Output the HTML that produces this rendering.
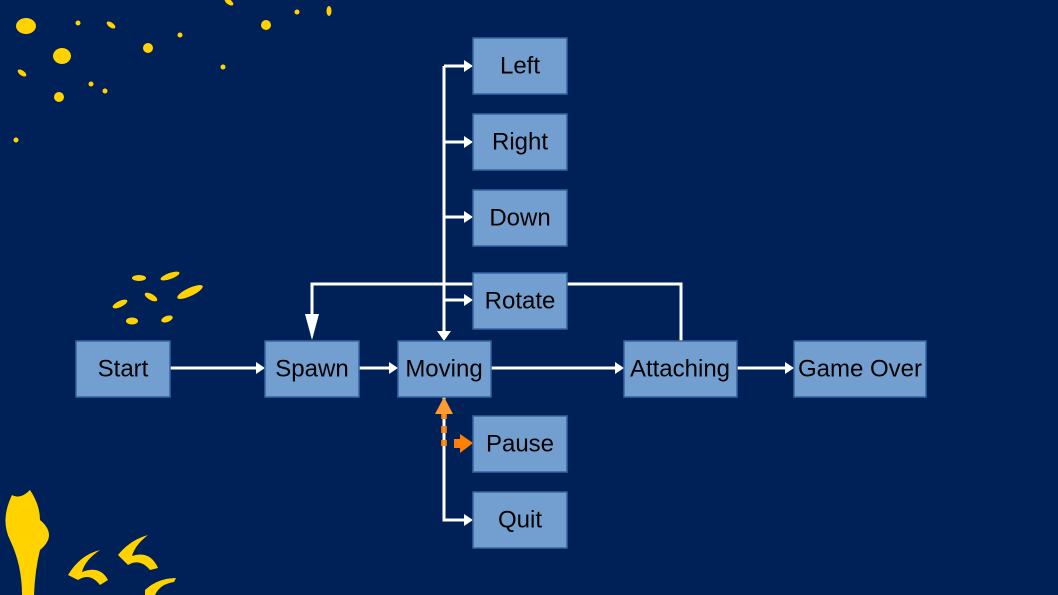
<!DOCTYPE html>
<html><head><meta charset="utf-8"><style>
html,body{margin:0;padding:0;background:#002157;}
svg{display:block}
text{font-family:"Liberation Sans",sans-serif;font-size:24px;fill:#000;text-anchor:middle;dominant-baseline:central}
</style></head><body>
<svg width="1058" height="595" viewBox="0 0 1058 595">
<rect width="1058" height="595" fill="#002157"/>
<g fill="#ffd200">
<ellipse cx="26" cy="26" rx="10" ry="8"/><ellipse cx="62" cy="56" rx="9" ry="8"/><ellipse cx="148" cy="48" rx="5" ry="5"/><ellipse cx="266" cy="25" rx="5" ry="5"/><ellipse cx="59" cy="97" rx="5" ry="5"/>
<circle cx="78" cy="23" r="2.5"/><circle cx="180" cy="35" r="2.5"/><circle cx="223" cy="67" r="2.5"/><circle cx="297" cy="12" r="2.5"/><circle cx="91" cy="84" r="2.5"/><circle cx="105" cy="91" r="2.5"/><circle cx="16" cy="140" r="2.5"/>
<ellipse cx="111" cy="25" rx="5" ry="2.5" transform="rotate(35 111 25)"/><ellipse cx="22" cy="73" rx="5" ry="2.5" transform="rotate(35 22 73)"/><ellipse cx="229" cy="2" rx="5" ry="2.5" transform="rotate(35 229 2)"/><ellipse cx="329" cy="11" rx="2.5" ry="5"/>
<ellipse cx="139" cy="278" rx="7" ry="3"/><ellipse cx="170" cy="276" rx="10" ry="3" transform="rotate(-20 170 276)"/><ellipse cx="120" cy="304" rx="8" ry="3" transform="rotate(-25 120 304)"/><ellipse cx="151" cy="297" rx="7" ry="3" transform="rotate(30 151 297)"/><ellipse cx="190" cy="292" rx="14" ry="4" transform="rotate(-25 190 292)"/><ellipse cx="132" cy="321" rx="6" ry="3.5"/><ellipse cx="167" cy="319" rx="6" ry="3" transform="rotate(-20 167 319)"/>
<path d="M12 495 Q20 500 30 490 Q40 505 40 520 Q58 535 40 550 Q35 570 34 595 L22 595 Q22 565 10 540 Q0 520 12 495Z"/>
<path d="M68 575 Q80 555 100 550 Q85 560 82 572 Q100 565 108 580 L100 585 Q90 572 78 580Z"/>
<path d="M118 555 Q130 540 148 535 Q135 545 132 556 Q150 550 158 568 L150 570 Q140 558 128 565Z"/>
<path d="M145 590 Q158 578 176 578 L174 582 Q160 584 155 595 L145 595Z"/>
</g>
<g stroke="#fff" stroke-width="3" fill="none">
<line x1="170" y1="368" x2="258" y2="368"/>
<line x1="359" y1="368" x2="391" y2="368"/>
<line x1="491" y1="368" x2="617" y2="368"/>
<line x1="737" y1="368" x2="787" y2="368"/>
<line x1="444" y1="66" x2="444" y2="333"/>
<line x1="444" y1="66" x2="466" y2="66"/>
<line x1="444" y1="142" x2="466" y2="142"/>
<line x1="444" y1="217" x2="466" y2="217"/>
<line x1="444" y1="300" x2="466" y2="300"/>
<polyline points="312,316 312,284 473,284"/>
<polyline points="567,284 681,284 681,341"/>
<polyline points="444,397 444,520 466,520"/>
</g>
<g fill="#fff">
<polygon points="256,362 265,368 256,374"/>
<polygon points="389,362 398,368 389,374"/>
<polygon points="615,362 624,368 615,374"/>
<polygon points="785,362 794,368 785,374"/>
<polygon points="464,60 473,66 464,72"/>
<polygon points="464,136 473,142 464,148"/>
<polygon points="464,211 473,217 464,223"/>
<polygon points="464,294 473,300 464,306"/>
<polygon points="464,514 473,520 464,526"/>
<polygon points="437,331 451,331 444,341"/>
<polygon points="305,314 319,314 312,340"/>
</g>
<g>
<line x1="444" y1="412" x2="444" y2="446" stroke="#ff8000" stroke-width="6" stroke-dasharray="7,7" opacity="0.85"/>
<polygon points="435,414 444,397 453,414" fill="#ff9a30"/>
<rect x="454" y="439" width="8" height="9" fill="#ff8000"/>
<polygon points="460,434 473,443 460,453" fill="#ff8000"/>
</g>
<g stroke="#3465a4" stroke-width="1.5" fill="#729fcf">
<rect x="76" y="341" width="94" height="56"/>
<rect x="265" y="341" width="94" height="56"/>
<rect x="398" y="341" width="93" height="56"/>
<rect x="624" y="341" width="113" height="56"/>
<rect x="794" y="341" width="132" height="56"/>
<rect x="473" y="38" width="94" height="56"/>
<rect x="473" y="114" width="94" height="56"/>
<rect x="473" y="190" width="94" height="56"/>
<rect x="473" y="273" width="94" height="56"/>
<rect x="473" y="416" width="94" height="56"/>
<rect x="473" y="492" width="94" height="56"/>
</g>
<g>
<text x="123" y="369">Start</text>
<text x="312" y="369">Spawn</text>
<text x="444" y="369">Moving</text>
<text x="680" y="369">Attaching</text>
<text x="860" y="369">Game Over</text>
<text x="520" y="66">Left</text>
<text x="520" y="142">Right</text>
<text x="520" y="218">Down</text>
<text x="520" y="301">Rotate</text>
<text x="520" y="444">Pause</text>
<text x="520" y="520">Quit</text>
</g>
</svg>
</body></html>
